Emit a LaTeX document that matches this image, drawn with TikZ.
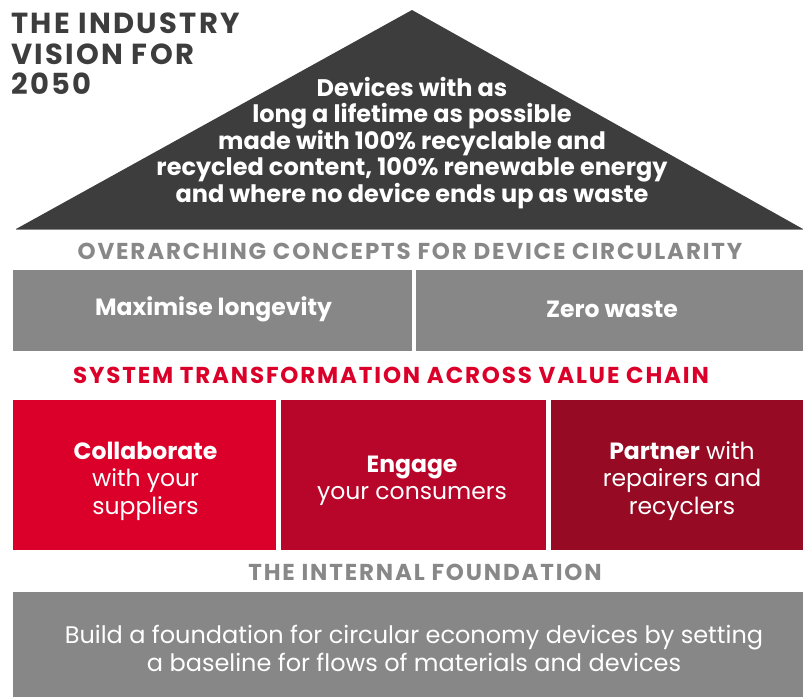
\documentclass[tikz,border=0pt]{standalone}
\usepackage{fontspec}
\setmainfont{Poppins}
\definecolor{dark}{HTML}{3C3D3C}
\definecolor{midgray}{HTML}{878787}
\definecolor{headgray}{HTML}{888888}
\definecolor{redA}{HTML}{DB0029}
\definecolor{redB}{HTML}{B8052A}
\definecolor{redC}{HTML}{960A23}
\newfontfamily\spacedbold[LetterSpace=8]{Poppins Bold}
\newfontfamily\titlefont[LetterSpace=8]{Poppins Bold}
\begin{document}
\begin{tikzpicture}[x=1pt,y=-1pt,
  boxtext/.style={text=white,align=center,inner sep=0pt,font=\fontsize{23.5}{27.5}\selectfont},
  heading/.style={inner sep=0pt,font=\spacedbold\fontsize{23}{24}\selectfont}]
\useasboundingbox (0,0) rectangle (803,697);
% roof
\fill[dark] (16,229) coordinate (tl) -- (412,10) coordinate (apex) -- (803,229) coordinate (tr) -- cycle;
\draw[headgray,line width=1pt] (16,229.5) -- (803,229.5);
\node[anchor=north west,align=left,text=dark,font=\titlefont\fontsize{29}{30.5}\selectfont,inner sep=0pt] (title) at (11,13) {THE INDUSTRY\\VISION FOR\\2050};
\node[text=white,align=center,font=\bfseries\fontsize{24}{26.5}\selectfont,inner sep=0pt] (vision) at (412,143) {Devices with as\\long a lifetime as possible\\made with 100\% recyclable and\\recycled content, 100\% renewable energy\\and where no device ends up as waste};
% overarching
\node[heading,text=headgray] (over) at (410,251) {OVERARCHING CONCEPTS FOR DEVICE CIRCULARITY};
\fill[midgray] (13,270) rectangle (412,351);
\fill[midgray] (416,270) rectangle (803,351);
\node[boxtext,font=\bfseries\fontsize{23.5}{26}\selectfont] (long) at (213.5,309.5) {Maximise longevity};
\node[boxtext,font=\bfseries\fontsize{23.5}{26}\selectfont] (zero) at (612,309.5) {Zero waste};
% system transformation
\node[heading,text=redA] (sys) at (391,375) {SYSTEM TRANSFORMATION ACROSS VALUE CHAIN};
\fill[redA] (13,400) rectangle (276,550);
\fill[redB] (281,400) rectangle (546,550);
\fill[redC] (551,400) rectangle (803,550);
\node[boxtext] (collab) at (145.5,481) {\textbf{Collaborate}\\with your\\suppliers};
\node[boxtext] (engage) at (412,481) {\textbf{Engage}\\your consumers};
\node[boxtext] (partner) at (682,481) {\textbf{Partner} with\\repairers and\\recyclers};
% foundation
\node[heading,text=headgray] (found) at (425,572) {THE INTERNAL FOUNDATION};
\fill[midgray] (13,592) rectangle (803,697);
\node[boxtext,font=\fontsize{24}{28}\selectfont] (build) at (414,648) {Build a foundation for circular economy devices by setting\\a baseline for flows of materials and devices};
\end{tikzpicture}
\end{document}
